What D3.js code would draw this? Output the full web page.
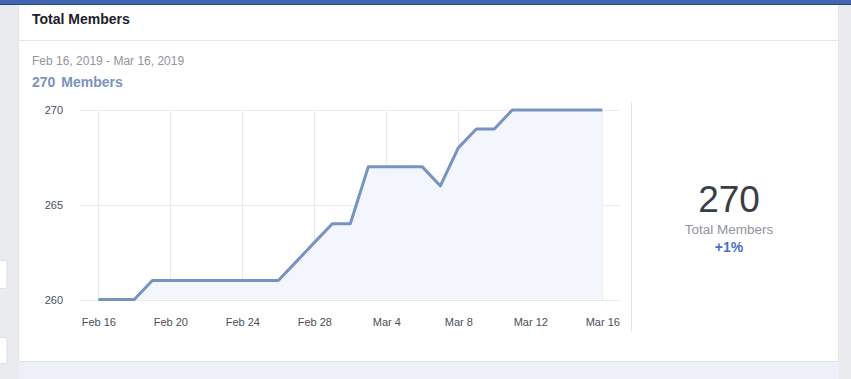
<!DOCTYPE html>
<html>
<head>
<meta charset="utf-8">
<script src="https://cdn.jsdelivr.net/npm/d3@7"></script>
<style>
  html, body { margin: 0; padding: 0; background: #e9ebee; }
  svg { display: block; font-family: "Liberation Sans", Arial, Helvetica, sans-serif; }
</style>
</head>
<body>
<svg id="chart" width="851" height="379"></svg>
<script>
// ---- data ----
const dates = [
  "2019-02-16","2019-02-17","2019-02-18","2019-02-19","2019-02-20","2019-02-21","2019-02-22",
  "2019-02-23","2019-02-24","2019-02-25","2019-02-26","2019-02-27","2019-02-28","2019-03-01",
  "2019-03-02","2019-03-03","2019-03-04","2019-03-05","2019-03-06","2019-03-07","2019-03-08",
  "2019-03-09","2019-03-10","2019-03-11","2019-03-12","2019-03-13","2019-03-14","2019-03-15","2019-03-16"
];
const members = [
  260,260,260,261,261,261,261,
  261,261,261,261,262,263,264,
  264,267,267,267,267,266,268,
  269,269,270,270,270,270,270,270
];
const xTickDates = ["2019-02-16","2019-02-20","2019-02-24","2019-02-28","2019-03-04","2019-03-08","2019-03-12","2019-03-16"];
const xTickLabels = ["Feb 16","Feb 20","Feb 24","Feb 28","Mar 4","Mar 8","Mar 12","Mar 16"];
const yTicks = [260, 265, 270];
const title = "Total Members";
const dateRange = "Feb 16, 2019 - Mar 16, 2019";
const totalValue = 270;
const totalLabel = "Members";
const sideLabel = "Total Members";
const changeLabel = "+1%";

// ---- drawing ----
const parse = d3.utcParse("%Y-%m-%d");
const data = dates.map((d, i) => ({ date: parse(d), value: members[i] }));
const svg = d3.select("#chart");

// page background pieces
svg.append("rect").attr("x", 0).attr("y", 0).attr("width", 851).attr("height", 379).attr("fill", "#e9ebee");
// small left widgets
svg.append("rect").attr("x", -4).attr("y", 260.5).attr("width", 11).attr("height", 28).attr("rx", 2)
  .attr("fill", "#fff").attr("stroke", "#dddfe2");
svg.append("rect").attr("x", -4).attr("y", 337.5).attr("width", 11).attr("height", 26).attr("rx", 2)
  .attr("fill", "#fff").attr("stroke", "#dddfe2");
// card
svg.append("rect").attr("x", 19).attr("y", 0).attr("width", 820).attr("height", 362).attr("fill", "#fff");
svg.append("rect").attr("x", 19).attr("y", 362).attr("width", 820).attr("height", 17).attr("fill", "#edf0f8");
svg.append("line").attr("x1", 19).attr("x2", 839).attr("y1", 361.5).attr("y2", 361.5).attr("stroke", "#dfe2e8");
svg.append("line").attr("x1", 18.5).attr("x2", 18.5).attr("y1", 0).attr("y2", 362).attr("stroke", "#e3e5e9");
svg.append("line").attr("x1", 838.5).attr("x2", 838.5).attr("y1", 0).attr("y2", 362).attr("stroke", "#e3e5e9");
// top blue bar
svg.append("rect").attr("x", 0).attr("y", 0).attr("width", 851).attr("height", 4).attr("fill", "#4267b2");
svg.append("rect").attr("x", 0).attr("y", 4).attr("width", 851).attr("height", 1).attr("fill", "#29487d");

// header
svg.append("text").attr("x", 32).attr("y", 24).text(title)
  .attr("font-size", 14).attr("font-weight", "bold").attr("fill", "#1d2129");
svg.append("line").attr("x1", 19).attr("x2", 839).attr("y1", 40.5).attr("y2", 40.5).attr("stroke", "#e5e5e5");

svg.append("text").attr("x", 32).attr("y", 65).text(dateRange)
  .attr("font-size", 12).attr("fill", "#90949c");
const sub = svg.append("text").attr("x", 32).attr("y", 87)
  .attr("font-size", 14).attr("font-weight", "bold").attr("fill", "#7a93c0");
sub.append("tspan").text(totalValue);
sub.append("tspan").attr("dx", 6).text(totalLabel);

// scales
const x = d3.scaleUtc()
  .domain([parse(dates[0]), parse(dates[dates.length - 1])])
  .range([98.3, 602.3]);
const y = d3.scaleLinear().domain([260, 270]).range([299.5, 110]);

const g = svg.append("g");

// horizontal grid
g.selectAll(".hgrid").data(yTicks).join("line")
  .attr("x1", 80).attr("x2", 620)
  .attr("y1", d => Math.round(y(d)) + 0.5).attr("y2", d => Math.round(y(d)) + 0.5)
  .attr("stroke", "#e9eaed");
// vertical grid
g.selectAll(".vgrid").data(xTickDates).join("line")
  .attr("x1", d => Math.round(x(parse(d))) + 0.5).attr("x2", d => Math.round(x(parse(d))) + 0.5)
  .attr("y1", 110).attr("y2", 301)
  .attr("stroke", "#e9eaed");

// area + line
const area = d3.area().x(d => x(d.date)).y0(y(260)).y1(d => y(d.value));
const line = d3.line().x(d => x(d.date)).y(d => y(d.value));
g.append("path").datum(data).attr("d", area).attr("fill", "#f3f6fc");
g.append("path").datum(data).attr("d", line).attr("fill", "none")
  .attr("stroke", "#7893c0").attr("stroke-width", 3).attr("stroke-linejoin", "round");

// y axis labels
const yAxis = d3.axisLeft(y).tickValues(yTicks).tickSize(0).tickPadding(0);
const ya = svg.append("g").attr("transform", "translate(63,0)").call(yAxis);
ya.select(".domain").remove();
ya.selectAll("text").attr("font-size", 11).attr("fill", "#4b4f56")
  .attr("font-family", "\"Liberation Sans\", Arial, sans-serif");

// x axis labels
const xAxis = d3.axisBottom(x).tickValues(xTickDates.map(parse)).tickSize(0).tickPadding(0)
  .tickFormat((d, i) => xTickLabels[i]);
const xa = svg.append("g").attr("transform", "translate(0,318)").call(xAxis);
xa.select(".domain").remove();
xa.selectAll("text").attr("font-size", 11).attr("fill", "#4b4f56")
  .attr("font-family", "\"Liberation Sans\", Arial, sans-serif");

// separator
svg.append("line").attr("x1", 631.5).attr("x2", 631.5).attr("y1", 102).attr("y2", 332).attr("stroke", "#e3e5e9");

// side summary
svg.append("text").attr("x", 729).attr("y", 212).attr("text-anchor", "middle")
  .attr("font-size", 37).attr("fill", "#3a3d44").text(totalValue);
svg.append("text").attr("x", 729).attr("y", 234).attr("text-anchor", "middle")
  .attr("font-size", 13.5).attr("fill", "#90949c").text(sideLabel);
svg.append("text").attr("x", 729).attr("y", 252).attr("text-anchor", "middle")
  .attr("font-size", 14).attr("font-weight", "bold").attr("fill", "#4a6fc6").text(changeLabel);
</script>
</body>
</html>
